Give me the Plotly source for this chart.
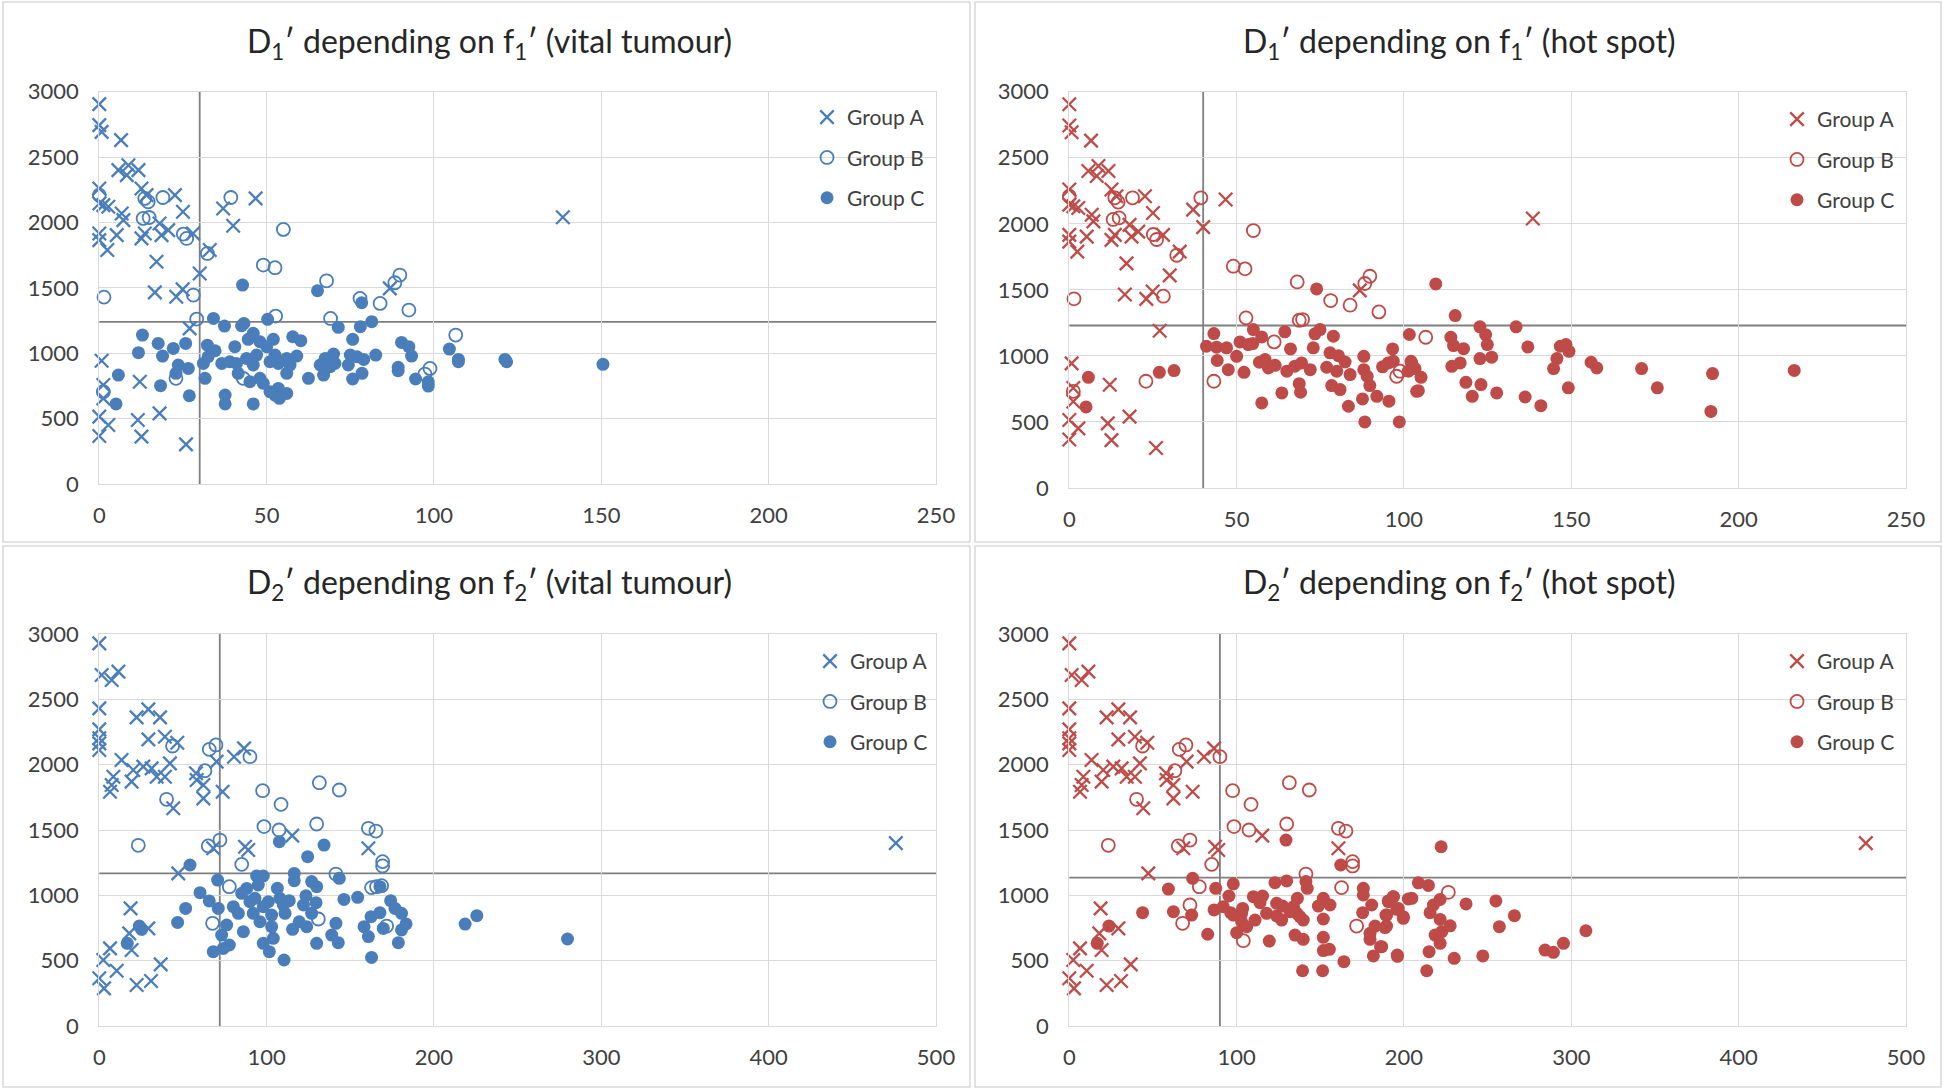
import plotly.graph_objects as go

# ---------------- data ----------------
# Top row: D1' vs f1'  (Group A shared by both top panels)
top_A_f = [0, 0, 0.7, 6.5, 5.7, 8.7, 8.2, 11.7, 12.6, 14.1, 22.6, 0, 0, 1.2, 2.7, 6.7, 7.2, 18, 25, 20.6,
           18.6, 13.6, 12.6, 5.2, 0, 0, 2.4, 28, 17.1, 30, 33, 37, 40, 46.7, 16.6, 23, 24.9, 27, 86.8, 0.7,
           12.1, 1.2, 1.2, 0, 2.7, 11.5, 18, 12.6, 0, 25.9, 138.5]
top_A_D = [2905, 2744, 2693, 2630, 2400, 2438, 2362, 2400, 2260, 2209, 2209, 2260, 2145, 2133, 2120, 2069, 2018, 1992, 2082, 1941,
           1903, 1916, 1878, 1903, 1916, 1865, 1789, 1916, 1700, 1610, 1789, 2107, 1975, 2184, 1465, 1432, 1488, 1190, 1496, 943,
           782, 757, 655, 515, 451, 489, 540, 362, 367, 303, 2040]

tl_B_f = [0, 13.6, 14.6, 19, 39.3, 13.1, 14.9, 25.1, 26.1, 32.3, 55, 49, 52.5, 1.4, 28.1, 29.1, 52.7, 67.9, 77.9, 83.9,
          89.8, 88.3, 92.5, 69.1, 106.5, 98.8, 97.3, 22.9, 1.2, 43]
tl_B_D = [2209, 2184, 2158, 2191, 2191, 2031, 2038, 1911, 1878, 1763, 1947, 1674, 1654, 1429, 1445, 1261, 1284, 1554, 1419, 1381,
          1598, 1539, 1330, 1266, 1139, 884, 841, 808, 706, 808]

tl_C_f = [12.9, 11.7, 17.6, 18.9, 22.1, 25.8, 23.6, 26.6, 22.9, 18.3, 26.9, 5.7, 5.0,
          34.1, 37.4, 42.8, 42.5, 43.2, 50.3, 46.0, 44.5, 48.0, 52.0, 50.0, 40.5, 32.3, 34.6, 32.5, 31.1, 31.6,
          36.6, 39.0, 41.0, 41.5, 44.0, 46.0, 47.0, 45.0, 48.0, 49.0, 51.0, 52.5, 53.5, 56.0, 56.0, 59.0, 57.0,
          51.0, 52.5, 53.5, 56.0, 53.8, 37.6, 37.6, 46.0, 57.8, 60.2, 62.5, 65.2, 66.0, 67.5, 67.0, 69.0, 70.0,
          70.4, 71.4, 74.4, 75.0, 75.7, 75.7, 78.4, 78.0, 81.4, 77.0, 79.0, 78.5, 82.6, 89.3, 89.3, 90.3, 92.5,
          93.3, 94.5, 98.3, 98.3, 104.6, 107.3, 107.3, 121.2, 121.7, 150.5]
tl_C_D = [1139, 1004, 1075, 978, 1037, 1075, 910, 884, 846, 752, 675, 833, 612,
          1266, 1208, 1521, 1210, 1228, 1259, 1152, 1106, 1088, 1106, 1050, 1050, 1062, 1019, 973, 922, 808,
          922, 935, 922, 846, 960, 910, 986, 782, 808, 770, 935, 986, 922, 960, 846, 978, 910,
          706, 680, 731, 693, 655, 680, 612, 612, 1126, 1096, 808, 1478, 910, 960, 833, 897, 994,
          922, 1198, 910, 986, 1106, 803, 1386, 1203, 1241, 973, 953, 846, 986, 892, 866, 1083, 1050,
          978, 803, 782, 749, 1032, 953, 935, 953, 935, 915]

tr_B_f = [1.4, 28.1, 13.6, 14.6, 18.9, 39.3, 13.1, 14.9, 25.1, 26.1, 32.1, 55, 49, 52.5, 68.1, 78.1, 83.9, 89.8, 88.3, 92.5,
          52.8, 68.7, 69.7, 61.2, 43.2, 22.9, 0, 97.8, 98.8, 106.5, 1.2]
tr_B_D = [1432, 1452, 2197, 2164, 2197, 2197, 2033, 2045, 1919, 1881, 1762, 1949, 1679, 1659, 1560, 1419, 1384, 1603, 1548, 1333,
          1288, 1270, 1275, 1106, 808, 808, 2209, 846, 884, 1141, 732]

tr_C_f = [5.7, 5.0, 26.9, 31.3, 43.2, 41.0, 44.0, 47.0, 50.0, 44.2, 47.5, 52.2, 51.0, 53.5, 55.0, 57.5, 54.8, 56.8, 58.5, 59.5,
          61.5, 57.5, 63.5, 64.4, 66.1, 65.0, 67.4, 69.4, 72.0, 68.7, 69.1, 73.9, 73.4, 74.9, 72.9, 78.9, 77.9, 80.4, 82.4, 76.9,
          79.9, 83.9, 78.4, 80.9, 83.4, 88.0, 88.0, 89.0, 89.8, 87.6, 91.9, 88.3, 93.6, 95.3, 96.8, 96.6, 95.5, 98.6, 101.6, 102.3,
          101.3, 103.8, 109.5, 115.3, 114.0, 114.8, 117.8, 122.7, 124.4, 124.9, 122.7, 126.2, 114.3, 116.8, 118.5, 123.0, 120.4, 127.7, 133.5, 137.0,
          136.2, 140.9, 146.7, 148.4, 149.3, 145.7, 144.7, 149.1, 155.9, 157.6, 171.0, 175.7, 192.2, 191.7, 216.6, 102.1, 103.3, 105.1, 104.3]
tr_C_D = [838, 614, 876, 889, 1169, 1073, 1066, 1061, 997, 965, 896, 876, 1106, 1086, 1199, 1144, 1093, 952, 972, 909,
          929, 644, 720, 1182, 1053, 884, 922, 947, 896, 790, 725, 1507, 1167, 1199, 1061, 1149, 1023, 1002, 954, 914,
          884, 859, 775, 745, 619, 997, 896, 846, 775, 674, 694, 500, 917, 947, 960, 1053, 657, 500, 1162, 947,
          884, 732, 1545, 1305, 1141, 1078, 1055, 1220, 1161, 1086, 980, 990, 921, 947, 800, 783, 694, 720, 1220, 1068,
          689, 623, 1073, 1086, 1035, 980, 904, 758, 952, 909, 904, 758, 866, 580, 890, 959, 904, 838, 737]

# Bottom row: D2' vs f2'  (Group A shared by both bottom panels)
bot_A_f = [0, 1.4, 7.4, 11.4, 0, 22.3, 29.3, 36.3, 0, 0, 0, 0, 29.3, 39.2, 46.6, 13.3, 20.3, 8.4, 7.4, 6.4,
           19.3, 26.3, 31.3, 34.3, 39.2, 42.2, 44.2, 57.8, 58.2, 62.2, 62.2, 70.1, 73.7, 80.5, 86.5, 87.1, 89, 68.1, 115.3, 160.8,
           47.2, 18.7, 29.3, 17.9, 19.3, 6.4, 2.4, 10.4, 0, 2.8, 22.3, 30.9, 36.7, 476]
bot_A_D = [2928, 2686, 2648, 2712, 2431, 2362, 2423, 2362, 2270, 2202, 2163, 2112, 2194, 2214, 2168, 2036, 1959, 1908, 1844, 1793,
           1870, 1985, 1972, 1908, 1908, 2010, 1666, 1934, 1883, 1844, 1742, 2023, 1793, 2061, 2125, 1372, 1347, 1360, 1457, 1360,
           1168, 900, 747, 709, 582, 594, 505, 423, 365, 288, 314, 344, 472, 1400]

bl_B_f = [23.3, 40.2, 43.8, 65.7, 69.7, 90.0, 63.1, 97.6, 108.6, 131.5, 143.4, 98.4, 107.4, 129.9, 160.8, 165.3, 169.3, 169.3, 65.1, 72.1,
          85.1, 141.4, 77.7, 67.7, 130.9, 171.7, 162.7, 165.7, 168.7]
bl_B_D = [1383, 1735, 2143, 2117, 2151, 2061, 1954, 1801, 1696, 1862, 1806, 1526, 1500, 1546, 1513, 1492, 1258, 1225, 1378, 1423,
          1237, 1163, 1066, 786, 819, 765, 1059, 1066, 1074]

bl_C_f = [54.2, 70.7, 60.2, 65.7, 51.6, 46.8, 23.9, 25.3, 16.7, 68.1, 73.1, 77.7, 74.1, 71.1, 76.1, 80.1, 83.1, 86.1, 85.1, 88.1,
          94.0, 98.0, 95.0, 90.0, 92.0, 96.0, 93.0, 98.0, 101.0, 103.0, 103.0, 98.0, 101.6, 104.0, 106.4, 107.9, 110.0, 113.5, 111.0, 115.5,
          110.4, 107.6, 116.5, 116.5, 119.5, 123.9, 123.5, 122.0, 126.9, 129.9, 129.5, 126.9, 134.3, 124.5, 143.4, 141.4, 138.9, 142.8, 129.9, 146.2,
          154.4, 158.2, 160.8, 162.7, 162.4, 167.7, 167.7, 169.7, 174.1, 176.7, 180.6, 183.3, 180.6, 178.7, 218.6, 225.6, 279.8]
bl_C_D = [1232, 1117, 1020, 957, 900, 793, 765, 740, 633, 569, 696, 620, 594, 900, 773, 913, 862, 722, 1015, 1053,
          1148, 1148, 1079, 951, 862, 798, 977, 913, 951, 849, 760, 633, 569, 671, 1054, 977, 926, 959, 862, 740,
          505, 1411, 1168, 1112, 798, 760, 997, 926, 1105, 1066, 944, 862, 1385, 1296, 1130, 786, 696, 638, 633, 969,
          985, 760, 684, 525, 837, 867, 1066, 747, 959, 900, 862, 781, 735, 638, 780, 844, 666]

br_B_f = [23.3, 40.2, 43.8, 65.7, 69.7, 90.0, 63.1, 97.6, 108.6, 131.5, 143.4, 98.4, 107.4, 129.9, 160.8, 165.3, 169.3, 169.3, 65.1, 72.1,
          85.1, 141.4, 77.7, 72.1, 67.7, 104.0, 162.7, 171.7, 226.5]
br_B_D = [1383, 1735, 2143, 2117, 2151, 2061, 1954, 1801, 1696, 1862, 1806, 1526, 1500, 1546, 1513, 1492, 1258, 1225, 1378, 1423,
          1237, 1163, 1066, 926, 786, 653, 1059, 765, 1023]

br_C_f = [23.7, 16.7, 43.8, 59.2, 62.2, 73.7, 73.1, 82.7, 87.5, 86.5, 92.0, 95.4, 98.0, 100.0, 103.0, 103.6, 96.4, 98.0, 103.0, 106.0,
          111.0, 110.0, 115.5, 114.0, 117.9, 119.5, 122.9, 129.9, 129.5, 123.9, 127.5, 123.9, 126.9, 131.9, 136.3, 134.0, 136.0, 137.8, 139.8, 134.9,
          139.8, 141.4, 142.2, 139.4, 151.8, 155.8, 148.8, 151.8, 151.8, 151.8, 155.4, 151.4, 164.1, 162.2, 175.7, 175.7, 180.7, 175.3, 179.7, 179.7,
          186.0, 181.7, 182.7, 189.6, 189.2, 190.6, 193.6, 196.0, 196.6, 199.6, 202.6, 222.2, 208.6, 214.6, 193.7, 190.7, 204.7, 195.7, 189.7, 199.6,
          188.7, 186.7, 196.1, 217.6, 221.6, 215.6, 221.6, 227.6, 222.6, 218.6, 221.6, 215.0, 213.6, 230.0, 237.1, 247.1, 254.9, 257.0, 266.0, 284.3,
          289.3, 295.3, 308.7]
br_C_D = [765, 633, 867, 1048, 875, 1130, 849, 702, 1054, 888, 913, 995, 1087, 714, 862, 900, 867, 849, 798, 760,
          811, 990, 995, 944, 862, 650, 1097, 1110, 1423, 939, 918, 842, 811, 875, 977, 913, 862, 837, 811, 696,
          663, 1105, 1054, 423, 977, 926, 918, 819, 679, 577, 587, 423, 492, 1232, 1054, 1003, 926, 867, 709, 663,
          607, 536, 765, 765, 849, 957, 990, 543, 900, 837, 972, 1372, 1096, 1076, 989, 951, 977, 893, 849, 824,
          753, 607, 533, 926, 969, 867, 816, 767, 722, 696, 633, 569, 423, 518, 934, 536, 957, 760, 844, 581,
          564, 633, 729]

# threshold lines (x, y) per panel
thr_x = [30, 40, 72, 90]
thr_y = [1240, 1230, 1168, 1135]

titles = ["D<sub>1</sub>\u2032 depending on f<sub>1</sub>\u2032 (vital tumour)",
          "D<sub>1</sub>\u2032 depending on f<sub>1</sub>\u2032 (hot spot)",
          "D<sub>2</sub>\u2032 depending on f<sub>2</sub>\u2032 (vital tumour)",
          "D<sub>2</sub>\u2032 depending on f<sub>2</sub>\u2032 (hot spot)"]
group_names = ["Group A", "Group B", "Group C"]
x_max = [250, 250, 500, 500]
x_dtick = [50, 50, 100, 100]

# ---------------- figure ----------------
W, H = 1944, 1090
BLUE = "#4A7EBB"
RED = "#BE4B48"
FONT = "Lato, 'Open Sans', sans-serif"
TXT = "#404040"

panels = [
    (BLUE, (top_A_f, top_A_D), (tl_B_f, tl_B_D), (tl_C_f, tl_C_D)),
    (RED, (top_A_f, top_A_D), (tr_B_f, tr_B_D), (tr_C_f, tr_C_D)),
    (BLUE, (bot_A_f, bot_A_D), (bl_B_f, bl_B_D), (bl_C_f, bl_C_D)),
    (RED, (bot_A_f, bot_A_D), (br_B_f, br_B_D), (br_C_f, br_C_D)),
]

# plot-area pixel boxes (left, right, top, bottom)
boxes = [(99.3, 936, 91.7, 484), (1069.3, 1906, 91.7, 488), (99.3, 936, 634, 1026), (1069.3, 1906, 634, 1026)]
panel_rects = [(3, 970, 2, 542), (975, 1941, 2, 542), (3, 970, 546, 1087), (975, 1941, 546, 1087)]
title_pos = [(489, 43), (1459, 43), (489, 584), (1459, 584)]
legend_pos = [(807, 97), (1777, 99), (810, 641), (1777, 641)]

fig = go.Figure()
layout = dict(width=W, height=H, margin=dict(l=0, r=0, t=0, b=0, pad=0, autoexpand=False),
              paper_bgcolor="white", plot_bgcolor="white", showlegend=True,
              font=dict(family=FONT, color=TXT))
shapes = []
annotations = []

for i, (col, A, B, C) in enumerate(panels):
    n = "" if i == 0 else str(i + 1)
    xa, ya = "x" + n, "y" + n
    lg = "legend" + n
    fig.add_trace(go.Scatter(x=A[0], y=A[1], mode="markers", name=group_names[0], xaxis=xa, yaxis=ya,
                             legend=lg, legendgroup="a" + n, cliponaxis=False,
                             marker=dict(symbol="x-thin", size=13.5, color=col, line=dict(width=2.3, color=col))))
    fig.add_trace(go.Scatter(x=B[0], y=B[1], mode="markers", name=group_names[1], xaxis=xa, yaxis=ya,
                             legend=lg, legendgroup="b" + n, cliponaxis=False,
                             marker=dict(symbol="circle-open", size=13, color=col, line=dict(width=1.8, color=col))))
    fig.add_trace(go.Scatter(x=C[0], y=C[1], mode="markers", name=group_names[2], xaxis=xa, yaxis=ya,
                             legend=lg, legendgroup="c" + n, cliponaxis=False,
                             marker=dict(symbol="circle", size=13, color=col, line=dict(width=0))))
    l, r, t, b = boxes[i]
    axcommon = dict(showgrid=True, gridcolor="#D9D9D9", gridwidth=1.3, zeroline=False,
                    showline=True, linecolor="#D9D9D9", linewidth=1.3, mirror=True, ticks="",
                    tickfont=dict(family=FONT, size=22, color=TXT), fixedrange=True, automargin=False)
    layout["xaxis" + n] = dict(domain=[l / W, r / W], range=[0, x_max[i]], dtick=x_dtick[i], tick0=0,
                               anchor=ya, ticklabelstandoff=11, **axcommon)
    layout["yaxis" + n] = dict(domain=[1 - b / H, 1 - t / H], range=[0, 3000], dtick=500, tick0=0,
                               anchor=xa, ticklabelstandoff=15, **axcommon)
    lx, ly = legend_pos[i]
    layout[lg] = dict(x=lx / W, y=1 - ly / H, xanchor="left", yanchor="top", bgcolor="rgba(0,0,0,0)",
                      traceorder="grouped", tracegroupgap=10,
                      font=dict(family=FONT, size=21, color=TXT))
    # threshold lines
    shapes.append(dict(type="line", xref=xa, yref=ya + " domain", x0=thr_x[i], x1=thr_x[i], y0=0, y1=1,
                       line=dict(color="#7F7F7F", width=1.8), layer="below"))
    shapes.append(dict(type="line", xref=xa + " domain", yref=ya, x0=0, x1=1, y0=thr_y[i], y1=thr_y[i],
                       line=dict(color="#7F7F7F", width=1.8), layer="below"))
    # panel border
    px0, px1, py0, py1 = panel_rects[i]
    shapes.append(dict(type="rect", xref="paper", yref="paper", x0=px0 / W, x1=px1 / W,
                       y0=1 - py1 / H, y1=1 - py0 / H, line=dict(color="#D9D9D9", width=1.5),
                       fillcolor="rgba(0,0,0,0)", layer="below"))
    tx, ty = title_pos[i]
    annotations.append(dict(text=titles[i], xref="paper", yref="paper", x=tx / W, y=1 - ty / H,
                            xanchor="center", yanchor="middle", showarrow=False,
                            font=dict(family=FONT, size=32, color="#262626")))

layout["shapes"] = shapes
layout["annotations"] = annotations
fig.update_layout(**layout)

fig.write_html("out.html", config={"displayModeBar": False},
               post_script="document.body.style.margin='0';document.body.style.overflow='hidden';")
